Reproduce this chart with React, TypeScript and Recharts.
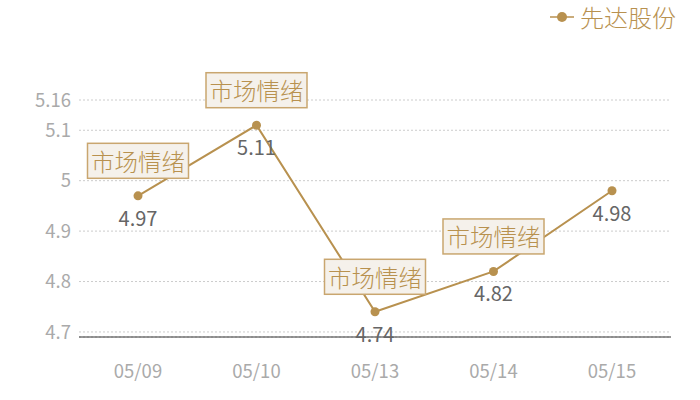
import React from "react";
import {
  LineChart,
  Line,
  XAxis,
  YAxis,
  CartesianGrid,
  LabelList,
} from "recharts";

const dates = ["05/09", "05/10", "05/13", "05/14", "05/15"];
const prices = [4.97, 5.11, 4.74, 4.82, 4.98];
const notes = ["市场情绪", "市场情绪", "市场情绪", "市场情绪", ""];
const yTicks = [4.7, 4.8, 4.9, 5, 5.1, 5.16];

const seriesName = "先达股份";
const gold = "#b8914f";
const font = "'Noto Sans CJK SC', 'Noto Sans', sans-serif";

const data = dates.map((d, i) => ({ date: d, price: prices[i], note: notes[i] }));

function PointLabel(props: any) {
  const { x, y, value, index } = props;
  const note = notes[index];
  return (
    <g>
      {note ? (
        <g>
          <rect
            x={x - 50.5}
            y={y - 52.5}
            width={101}
            height={35}
            fill="#f5f1eb"
            stroke="#c9a66f"
            strokeWidth={1.5}
          />
          <text
            x={x}
            y={y - 35}
            textAnchor="middle"
            dominantBaseline="central"
            fontSize={23.5}
            fontWeight={300}
            fill={gold}
            fontFamily={font}
          >
            {note}
          </text>
        </g>
      ) : null}
      <text
        x={x}
        y={y + 30}
        textAnchor="middle"
        fontSize={20}
        fill="#666"
        fontFamily={font}
      >
        {value}
      </text>
    </g>
  );
}

export default function App() {
  return (
    <div
      style={{
        position: "absolute",
        left: 0,
        top: 0,
        width: 700,
        height: 400,
        background: "#fff",
        fontFamily: font,
      }}
    >
      <div
        style={{
          position: "absolute",
          top: 3,
          right: 24,
          display: "flex",
          alignItems: "center",
          gap: 6,
          fontSize: 24,
          fontWeight: 300,
          color: gold,
          lineHeight: "28px",
        }}
      >
        <svg width={24} height={12}>
          <line x1={0} y1={6} x2={24} y2={6} stroke={gold} strokeWidth={1.5} />
          <circle cx={12} cy={6} r={5} fill={gold} />
        </svg>
        <span>{seriesName}</span>
      </div>
      <LineChart
        width={700}
        height={400}
        data={data}
        margin={{ top: 100, right: 29, bottom: 0, left: 0 }}
      >
        <CartesianGrid vertical={false} stroke="#ccc" strokeDasharray="2 2" />
        <YAxis
          type="number"
          domain={[4.69, 5.16]}
          ticks={yTicks}
          width={79}
          axisLine={false}
          tickLine={false}
          tick={{ fill: "#aaa", fontSize: 18.5, fontFamily: font }}
        />
        <Line
          dataKey="price"
          name={seriesName}
          stroke={gold}
          strokeWidth={2}
          dot={{ r: 4.5, fill: gold, stroke: gold, strokeWidth: 0 }}
          isAnimationActive={false}
        >
          <LabelList dataKey="price" content={<PointLabel />} />
        </Line>
        <XAxis
          dataKey="date"
          height={63}
          padding={{ left: 59, right: 59 }}
          axisLine={{ stroke: "#333" }}
          tickLine={false}
          tickMargin={22}
          tick={{ fill: "#aaa", fontSize: 18.5, fontFamily: font }}
        />
      </LineChart>
    </div>
  );
}
